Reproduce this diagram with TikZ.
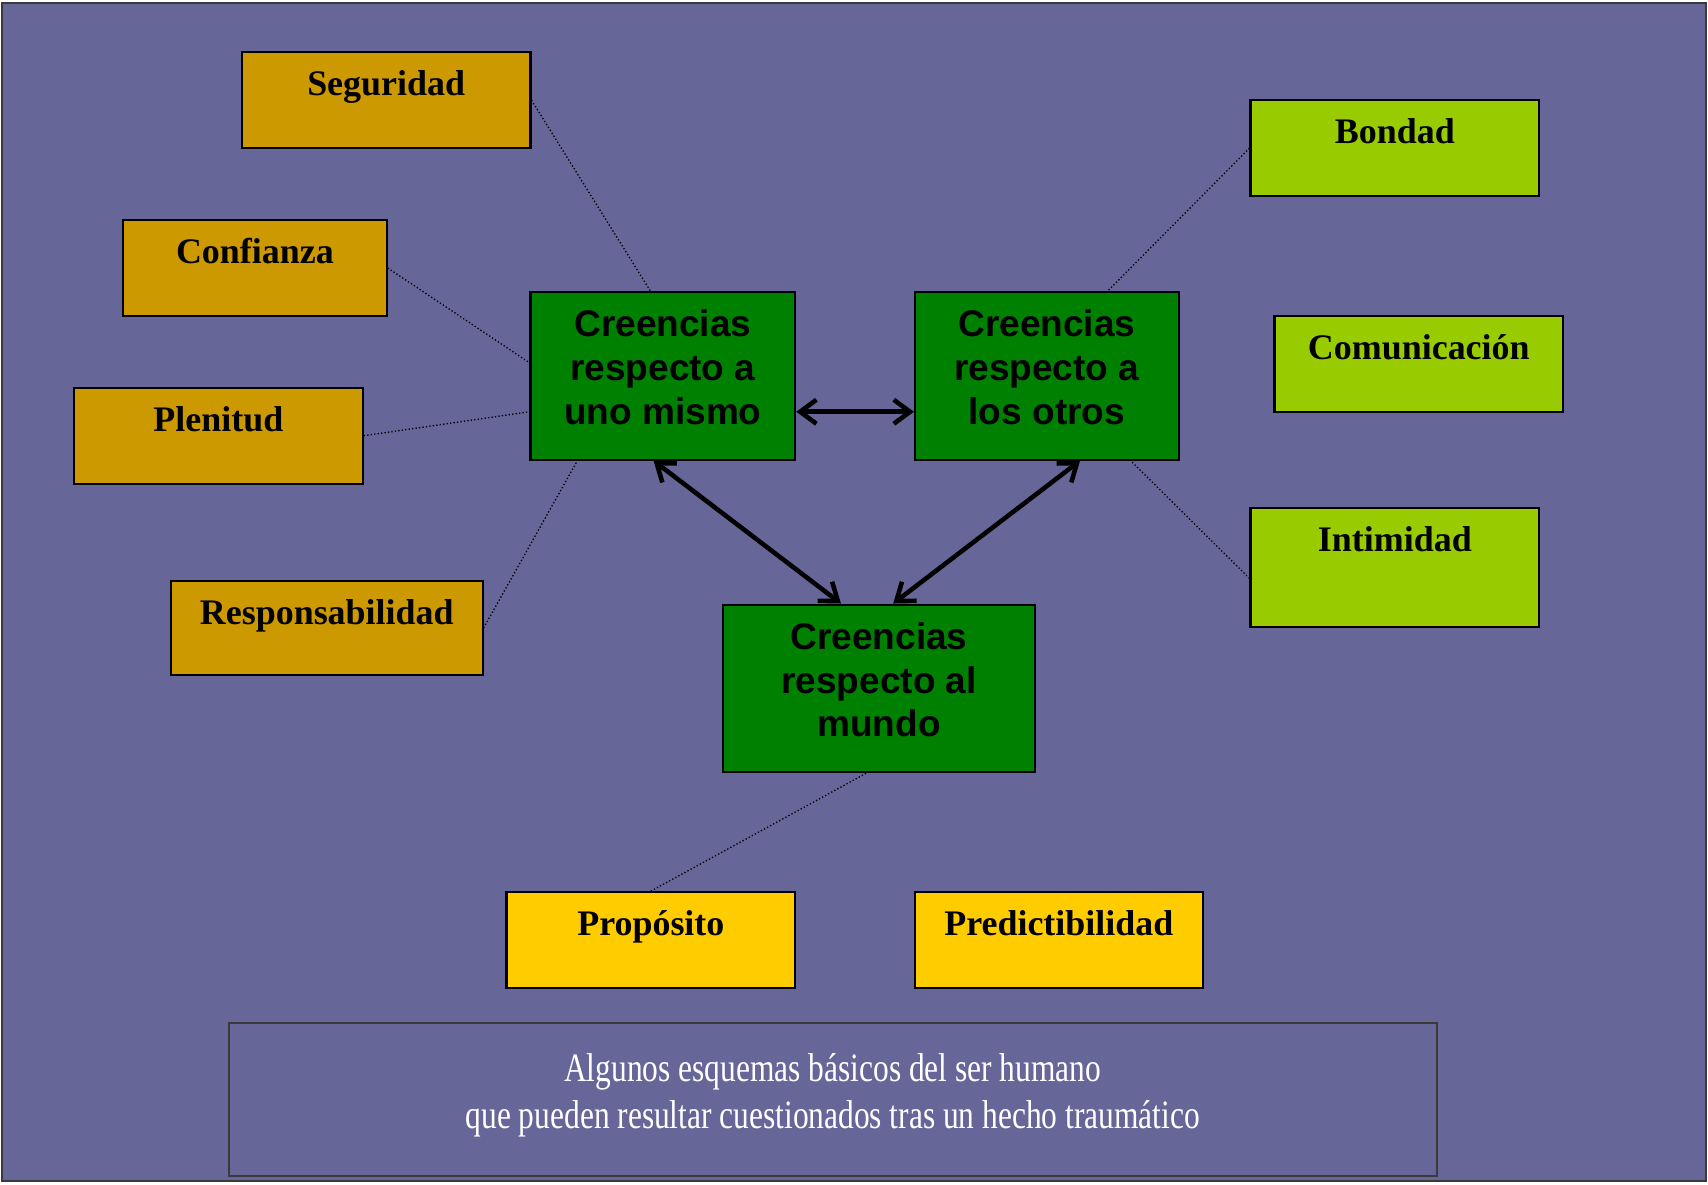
\documentclass[tikz,border=0pt]{standalone}
\usepackage{fontspec}
\setmainfont{Liberation Serif}
\newfontfamily\boxsans{Liberation Sans}
\newfontfamily\capserif[FakeStretch=0.78]{Liberation Serif}
\usetikzlibrary{arrows.meta}
\definecolor{bgblue}{HTML}{666699}
\definecolor{goldc}{HTML}{CC9900}
\definecolor{greenc}{HTML}{008000}
\definecolor{limec}{HTML}{99CC00}
\definecolor{yellowc}{HTML}{FFCC00}
\definecolor{framegrey}{HTML}{3A3A3A}
\tikzset{
  lab/.style={draw=black, line width=0.95pt, inner xsep=0pt, inner ysep=0pt,
    text height=20pt, font=\fontsize{16.5}{20}\selectfont\bfseries},
  goldbox/.style={lab, fill=goldc},
  limebox/.style={lab, fill=limec},
  yellowbox/.style={lab, fill=yellowc},
  core/.style={draw=black, line width=0.95pt, fill=greenc, align=center,
    inner sep=0pt, font=\boxsans\bfseries\fontsize{17}{20}\selectfont},
  dotl/.style={line width=0.6pt, densely dotted, black},
  arr/.style={line width=2.1pt, line cap=round,
    {Straight Barb[length=7.5pt,width=11pt]}-{Straight Barb[length=7.5pt,width=11pt]}},
  capbox/.style={draw=framegrey, line width=0.9pt, align=center, text=white,
    inner sep=0pt, font=\capserif\fontsize{18.5}{21.75}\selectfont}
}
\begin{document}
\begin{tikzpicture}[x=0.5pt,y=-0.5pt]
\useasboundingbox (0,0) rectangle (1568,1087);
\fill[white] (0,0) rectangle (1568,1087);
\filldraw[fill=bgblue, draw=framegrey, line width=1pt] (2,3) rectangle (1566,1084);

% gold boxes
\node[goldbox, minimum width=132.5pt, text depth=24pt] (seg) at (354.5,92) {Seguridad};
\node[goldbox, minimum width=121pt, text depth=24pt] (conf) at (234,246) {Confianza};
\node[goldbox, minimum width=132.5pt, text depth=24pt] (plen) at (200.5,400) {Plenitud};
\node[goldbox, minimum width=143pt, text depth=23.5pt] (resp) at (300,576.5) {Responsabilidad};

% green core boxes
\node[core, minimum width=121.5pt, minimum height=77pt] (g1) at (608.5,345)
  {Creencias\\respecto a\\uno mismo\rule[-8pt]{0pt}{8pt}};
\node[core, minimum width=121pt, minimum height=77pt] (g2) at (961,345)
  {Creencias\\respecto a\\los otros\rule[-8pt]{0pt}{8pt}};
\node[core, minimum width=143pt, minimum height=77pt] (g3) at (807,632)
  {Creencias\\respecto al\\mundo\rule[-8pt]{0pt}{8pt}};

% lime boxes
\node[limebox, minimum width=132.5pt, text depth=24pt] (bond) at (1280.5,136) {Bondad};
\node[limebox, minimum width=132.5pt, text depth=24pt] (comu) at (1302.5,334) {Comunicación};
\node[limebox, minimum width=132.5pt, text depth=35pt] (inti) at (1280.5,521) {Intimidad};

% yellow boxes
\node[yellowbox, minimum width=132.5pt, text depth=24pt] (prop) at (597.5,863) {Propósito};
\node[yellowbox, minimum width=132pt, text depth=24pt] (pred) at (972,863) {Predictibilidad};

% caption
\node[capbox, minimum width=554.5pt, minimum height=70.5pt] (cap) at (764.5,1009.5)
  {Algunos esquemas básicos del ser humano\\que pueden resultar cuestionados tras un hecho traumático\rule[-8pt]{0pt}{8pt}};

% dotted connectors
\draw[dotl] (seg.east) -- ([xshift=-5.75pt]g1.north);
\draw[dotl] (conf.east) -- ([yshift=6pt]g1.west);
\draw[dotl] (plen.east) -- ([yshift=-16.5pt]g1.west);
\draw[dotl] (resp.east) -- ([xshift=-39.25pt]g1.south);
\draw[dotl] (bond.west) -- ([xshift=28pt]g2.north);
\draw[dotl] ([yshift=-5pt]inti.west) -- ([xshift=38.5pt]g2.south);
\draw[dotl] ([xshift=-6pt]g3.south) -- (prop.north);

% arrows
\draw[arr] ([yshift=-16.5pt]g1.east) -- ([yshift=-16.5pt]g2.west);
\draw[arr] ([xshift=-4.25pt]g1.south) -- ([xshift=-17.5pt]g3.north);
\draw[arr] ([xshift=15.25pt]g2.south) -- ([xshift=6.5pt]g3.north);
\end{tikzpicture}
\end{document}
